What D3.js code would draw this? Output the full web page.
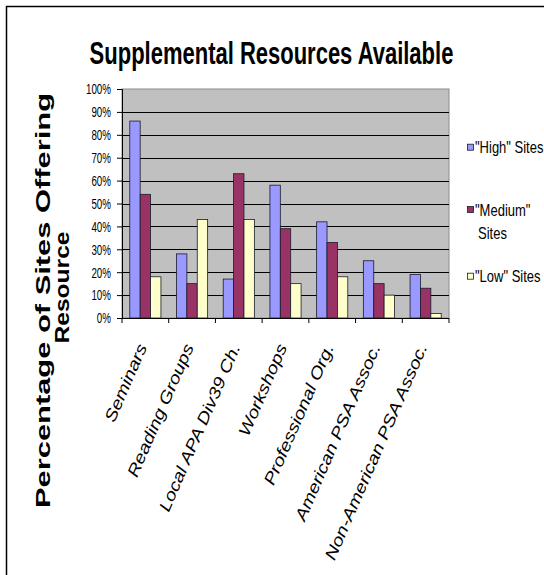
<!DOCTYPE html>
<html>
<head>
<meta charset="utf-8">
<script src="https://cdn.jsdelivr.net/npm/d3@7"></script>
<style>
  html, body { margin: 0; padding: 0; background: #fff; }
  svg { display: block; font-family: "Liberation Sans", Arial, sans-serif; }
</style>
</head>
<body>
<div id="chart"></div>
<script>
const categories = ['Seminars', 'Reading Groups', 'Local APA Div39 Ch.', 'Workshops',
                    'Professional Org.', 'American PSA Assoc.', 'Non-American PSA Assoc.'];
const seriesKeys  = ['high', 'medium', 'low'];
const legendLines = [['"High" Sites'], ['"Medium"', 'Sites'], ['"Low" Sites']];
const highVals    = [86, 28, 17, 58, 42, 25, 19];
const mediumVals  = [54, 15, 63, 39, 33, 15, 13];
const lowVals     = [18, 43, 43, 15, 18, 10, 2];
const yTicks      = [0, 10, 20, 30, 40, 50, 60, 70, 80, 90, 100];

const W = 544, H = 575;
const colors = { high: '#9999FF', medium: '#993366', low: '#FFFFCC' };
const rows = categories.map((c, i) => ({ cat: c, high: highVals[i], medium: mediumVals[i], low: lowVals[i] }));

const svg = d3.select('#chart').append('svg').attr('width', W).attr('height', H);

// outer frame (only top / left edges show in the window)
svg.append('rect').attr('x', 6.5).attr('y', 6.5).attr('width', 700).attr('height', 700)
  .attr('fill', 'none').attr('stroke', '#000').attr('stroke-width', 1.5);

const plot = { l: 122, r: 449, t: 89, b: 318 };
const x  = d3.scaleBand().domain(categories).range([plot.l, plot.r]);
const xs = d3.scaleBand().domain(seriesKeys).range([0, x.step()]).paddingInner(0).paddingOuter(0.75);
const y  = d3.scaleLinear().domain([0, 100]).range([plot.b, plot.t]);

// plot background
svg.append('rect').attr('x', plot.l).attr('y', plot.t)
  .attr('width', plot.r - plot.l).attr('height', plot.b - plot.t)
  .attr('fill', '#C0C0C0').attr('stroke', '#8c8c8c').attr('stroke-width', 1);

// gridlines
svg.append('g').selectAll('line').data(yTicks.filter(t => t > 0 && t < 100)).join('line')
  .attr('x1', plot.l).attr('x2', plot.r)
  .attr('y1', d => Math.round(y(d)) + 0.5).attr('y2', d => Math.round(y(d)) + 0.5)
  .attr('stroke', '#000').attr('stroke-width', 1);

// bars
const groups = svg.append('g').selectAll('g').data(rows).join('g')
  .attr('transform', d => `translate(${x(d.cat)},0)`);
groups.selectAll('rect').data(d => seriesKeys.map(k => ({ k, v: d[k] }))).join('rect')
  .attr('x', d => xs(d.k)).attr('width', xs.bandwidth())
  .attr('y', d => y(d.v)).attr('height', d => y(0) - y(d.v))
  .attr('fill', d => colors[d.k]).attr('stroke', '#1a1a2a').attr('stroke-width', 0.8);

// y axis
const yAxis = svg.append('g').attr('transform', `translate(${plot.l},0)`)
  .call(d3.axisLeft(y).tickValues(yTicks).tickSize(5).tickFormat(d => d + '%'));
yAxis.select('.domain').attr('stroke', '#000');
yAxis.selectAll('.tick line').attr('stroke', '#000');
yAxis.selectAll('.tick text')
  .attr('font-size', 9.8).attr('fill', '#000').attr('x', 0).attr('dy', null)
  .attr('transform', 'translate(-11,4.8) scale(1,1.5)');

// x axis: boundary ticks
const xAxis = svg.append('g').attr('transform', `translate(0,${plot.b})`);
xAxis.append('line').attr('x1', plot.l).attr('x2', plot.r).attr('y1', 0.5).attr('y2', 0.5).attr('stroke', '#000');
xAxis.selectAll('line.tk').data(categories.concat([null])).join('line').attr('class', 'tk')
  .attr('x1', (d, i) => plot.l + i * x.step()).attr('x2', (d, i) => plot.l + i * x.step())
  .attr('y1', 0).attr('y2', 5).attr('stroke', '#000');

// x labels
svg.append('g').selectAll('text').data(categories).join('text')
  .attr('transform', d => `translate(${x(d) + x.bandwidth() / 2 + 2},347) rotate(-66.5) scale(1.27,1.05)`)
  .attr('text-anchor', 'end').attr('font-size', 15.5).attr('font-style', 'italic').attr('fill', '#000')
  .text(d => d);

// title
svg.append('text').attr('transform', 'translate(271.5,64) scale(1,1.4)')
  .attr('text-anchor', 'middle').attr('font-size', 22).attr('font-weight', 'bold').attr('fill', '#000')
  .text('Supplemental Resources Available');

// y axis title
svg.append('text').attr('transform', 'translate(50,300.5) rotate(-90)')
  .attr('text-anchor', 'middle').attr('font-size', 21).attr('font-weight', 'bold')
  .attr('textLength', 415).attr('lengthAdjust', 'spacingAndGlyphs')
  .text('Percentage of Sites Offering');
svg.append('text').attr('transform', 'translate(69,287.5) rotate(-90)')
  .attr('text-anchor', 'middle').attr('font-size', 21).attr('font-weight', 'bold')
  .attr('textLength', 112).attr('lengthAdjust', 'spacingAndGlyphs')
  .text('Resource');

// legend
const legendY = [147.7, 210, 276.7];
const leg = svg.append('g').selectAll('g').data(seriesKeys).join('g')
  .attr('transform', (d, i) => `translate(467,${legendY[i]})`);
leg.append('rect').attr('x', 0.5).attr('y', -3.5).attr('width', 6).attr('height', 6)
  .attr('fill', d => colors[d]).attr('stroke', '#1a1a2a').attr('stroke-width', 0.8);
leg.each(function (d, i) {
  legendLines[i].forEach((line, j) => {
    d3.select(this).append('text')
      .attr('transform', `translate(${j === 0 ? 8 : 11},${5.5 + j * 23}) scale(1,1.25)`)
      .attr('font-size', 13).attr('fill', '#000').text(line);
  });
});
</script>
</body>
</html>
